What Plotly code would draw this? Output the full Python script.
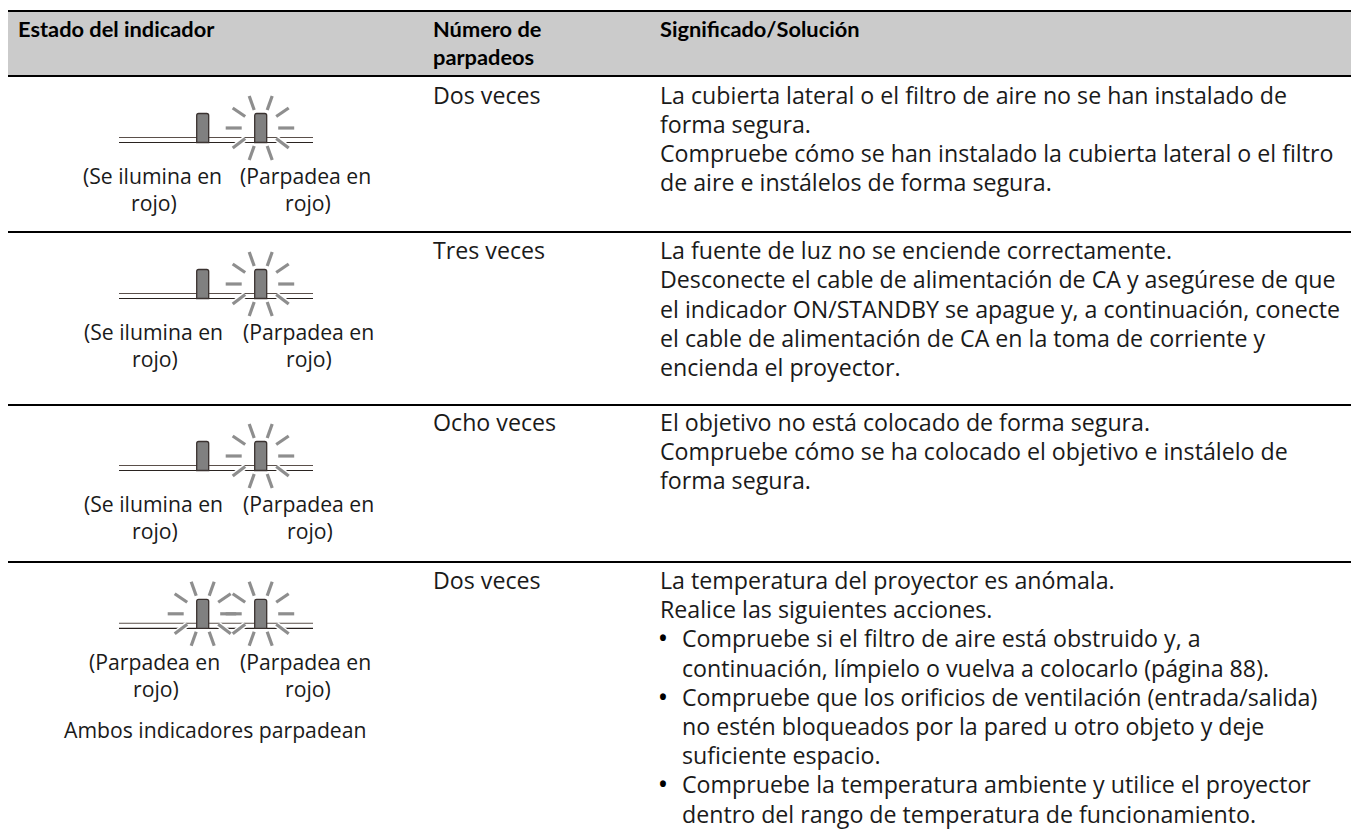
import plotly.graph_objects as go

W, H = 1351, 829
BODY = "Open Sans"
HEAD = "Lato"
BODY_SIZE = 23.2
SMALL_SIZE = 21.2
HEAD_SIZE = 21.8
BULLET_SIZE = 21
BASE_SHIFT = 8.0      # annotation centre above the text baseline (body)
SMALL_SHIFT = 7.4
HEAD_SHIFT = 7.5
BULLET_SHIFT = 8.2

COL2_X = 431
COL3_X = 658
BULLET_X = 657
INDENT_X = 680

header_lines = [(16, 36, "Estado del indicador"), (COL2_X, 36, "Número de"), (COL2_X, 64, "parpadeos"), (COL3_X, 36, "Significado/Solución")]

blink_counts = ["Dos veces", "Tres veces", "Ocho veces", "Dos veces"]
blink_base = [103, 258, 430, 588]

meaning_lines = [
    (103, "La cubierta lateral o el filtro de aire no se han instalado de", 0),
    (132, "forma segura.", 0),
    (161, "Compruebe cómo se han instalado la cubierta lateral o el filtro", 0),
    (190, "de aire e instálelos de forma segura.", 0),
    (258, "La fuente de luz no se enciende correctamente.", 0),
    (287, "Desconecte el cable de alimentación de CA y asegúrese de que", 0),
    (317, "el indicador ON/STANDBY se apague y, a continuación, conecte", 0),
    (346, "el cable de alimentación de CA en la toma de corriente y", 0),
    (375, "encienda el proyector.", 0),
    (430, "El objetivo no está colocado de forma segura.", 0),
    (459, "Compruebe cómo se ha colocado el objetivo e instálelo de", 0),
    (488, "forma segura.", 0),
    (588, "La temperatura del proyector es anómala.", 0),
    (617, "Realice las siguientes acciones.", 0),
    (646, "Compruebe si el filtro de aire está obstruido y, a", 1),
    (676, "continuación, límpielo o vuelva a colocarlo (página 88).", 2),
    (705, "Compruebe que los orificios de ventilación (entrada/salida)", 1),
    (734, "no estén bloqueados por la pared u otro objeto y deje", 2),
    (763, "suficiente espacio.", 2),
    (792, "Compruebe la temperatura ambiente y utilice el proyector", 1),
    (822, "dentro del rango de temperatura de funcionamiento.", 2),
]

row_center_y = [128, 284, 456, 613.8]
row_blink = [(False, True), (False, True), (False, True), (True, True)]
row_captions = [
    [(152, 182.7, "(Se ilumina en"), (154, 210, "rojo)"), (305.5, 182.7, "(Parpadea en"), (307.5, 210, "rojo)")],
    [(153.3, 338.4, "(Se ilumina en"), (154.7, 365.7, "rojo)"), (308.3, 338.4, "(Parpadea en"), (308.8, 365.7, "rojo)")],
    [(153.3, 511, "(Se ilumina en"), (154.7, 538.3, "rojo)"), (308.8, 511, "(Parpadea en"), (309.5, 538.3, "rojo)")],
    [(154.8, 668.4, "(Parpadea en"), (155.8, 695.7, "rojo)"), (305.5, 668.4, "(Parpadea en"), (308, 695.7, "rojo)")],
]
extra_caption = (215.7, 736.7, "Ambos indicadores parpadean")

rule_y = [11, 76, 232, 405, 562]
header_band = (11, 76)
table_x = (8, 1351)
light_x = (202.7, 260.7)
rail_x = (119, 313)
ray_segments = [(-35, 0, -19, 0), (17.5, 0, 33.5, 0), (-11.5, -32, -6.5, -18), (6.5, -18, 11.5, -32),
                (-11.5, 32, -6.5, 18), (6.5, 18, 11.5, 32), (-28, -20, -15.5, -11.5), (15.5, -11.5, 28, -20),
                (-28, 20, -15.5, 10.5), (15.5, 10.5, 28, 20)]

fig = go.Figure()
shapes = []
annots = []


def line(x0, y0, x1, y1, color, width):
    shapes.append(dict(type="line", xref="x", yref="y", x0=x0, y0=y0, x1=x1, y1=y1,
                       line=dict(color=color, width=width)))


def text(x, y, s, size=BODY_SIZE, font=BODY, anchor="left", color="#1a1a1a", bold=False):
    annots.append(dict(xref="x", yref="y", x=x, y=y, text=f"<b>{s}</b>" if bold else s, showarrow=False,
                       xanchor=anchor, yanchor="middle", align=anchor,
                       font=dict(family=font, size=size, color=color)))


shapes.append(dict(type="rect", xref="x", yref="y", x0=table_x[0], x1=table_x[1], y0=header_band[0], y1=header_band[1],
                   fillcolor="#cbcbcb", line=dict(width=0)))
for y in rule_y:
    line(table_x[0], y, table_x[1], y, "#000000", 2.2)

for x, y, s in header_lines:
    text(x, y - HEAD_SHIFT, s, size=HEAD_SIZE, font=HEAD, bold=True, color="#000000")
for y, s in zip(blink_base, blink_counts):
    text(COL2_X, y - BASE_SHIFT, s)
for y, s, kind in meaning_lines:
    if kind == 1:
        text(BULLET_X, y - BULLET_SHIFT, "•", size=BULLET_SIZE, color="#000000", bold=True)
    text(COL3_X if kind == 0 else INDENT_X, y - BASE_SHIFT, s)

for cy, blink, caps in zip(row_center_y, row_blink, row_captions):
    line(rail_x[0], cy + 9.5, rail_x[1], cy + 9.5, "#5a4f4a", 1.1)
    line(rail_x[0], cy + 14.5, rail_x[1], cy + 14.5, "#2a2320", 1.2)
    for lx, b in zip(light_x, blink):
        if b:
            for dx0, dy0, dx1, dy1 in ray_segments:
                line(lx + dx0, cy + dy0, lx + dx1, cy + dy1, "#ffffff", 6)
    for lx, b in zip(light_x, blink):
        if b:
            for dx0, dy0, dx1, dy1 in ray_segments:
                line(lx + dx0, cy + dy0, lx + dx1, cy + dy1, "#8e8e8e", 3.2)
        x0, x1, y0, y1 = lx - 6, lx + 6, cy - 14.5, cy + 14.5
        path = (f"M {x0},{y1} L {x0},{y0 + 2} Q {x0},{y0} {x0 + 2},{y0} L {x1 - 2},{y0} "
                f"Q {x1},{y0} {x1},{y0 + 2} L {x1},{y1} Z")
        shapes.append(dict(type="path", xref="x", yref="y", path=path,
                           fillcolor="#808080", line=dict(color="#3a3230", width=1.3)))
    for x, y, s in caps:
        text(x, y - SMALL_SHIFT, s, size=SMALL_SIZE, anchor="center")
text(extra_caption[0], extra_caption[1] - SMALL_SHIFT, extra_caption[2], size=SMALL_SIZE, anchor="center")

fig.update_layout(
    width=W, height=H, margin=dict(l=0, r=0, t=0, b=0), autosize=False,
    paper_bgcolor="white", plot_bgcolor="white", showlegend=False,
    xaxis=dict(range=[0, W], visible=False, fixedrange=True),
    yaxis=dict(range=[H, 0], visible=False, fixedrange=True),
    shapes=shapes, annotations=annots,
)
fig.add_trace(go.Scatter(x=[0], y=[0], mode="markers", marker=dict(opacity=0), hoverinfo="skip"))
fig.write_html("out.html", config=dict(displayModeBar=False),
               post_script="document.body.style.margin='0';document.documentElement.style.overflow='hidden';")
